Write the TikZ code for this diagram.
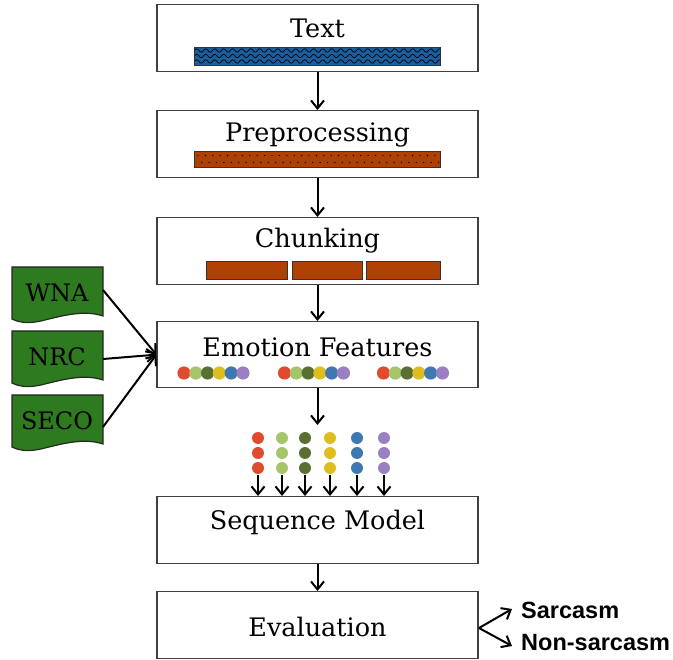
\documentclass[tikz,border=0pt]{standalone}
\usepackage{fontspec}
\setmainfont{DejaVu Serif}
\newfontfamily\labelsans{Liberation Sans}
\usetikzlibrary{arrows.meta}
\definecolor{barblue}{HTML}{1B5E9E}
\definecolor{barorange}{HTML}{AF4004}
\definecolor{docgreen}{HTML}{2E7A1E}
\definecolor{dred}{HTML}{E04A2F}
\definecolor{dlgreen}{HTML}{A6C46A}
\definecolor{ddgreen}{HTML}{5A7033}
\definecolor{dyellow}{HTML}{DDBE1E}
\definecolor{dblue}{HTML}{3F78B0}
\definecolor{dpurple}{HTML}{9A80C0}
\tikzset{
  stagebox/.style={draw=black!75, line width=1.3pt, fill=white, minimum width=321pt, minimum height=67pt, inner sep=0pt, anchor=north},
  stagelabel/.style={font=\fontsize{25.5}{28}\selectfont, inner sep=0pt},
  barbox/.style={draw=black!80, line width=0.9pt},
  flow/.style={line width=2pt, -{Straight Barb[length=8pt,width=13pt,line width=2pt]}},
  docbox/.style={draw=black!85, line width=1.2pt, fill=docgreen},
  doclabel/.style={font=\fontsize{24}{26}\selectfont, inner sep=0pt},
  outlabel/.style={font=\labelsans\bfseries\fontsize{23.5}{26}\selectfont, anchor=west, inner sep=0pt},
}
\begin{document}
\begin{tikzpicture}[x=1pt, y=-1pt]
\useasboundingbox (0,0) rectangle (673,660);

% ---- pipeline stages
\node[stagebox] (text) at (317.5,4) {};
\node[stagebox] (prep) at (317.5,110) {};
\node[stagebox] (chunk) at (317.5,217) {};
\node[stagebox, minimum height=66pt] (emo) at (317.5,321) {};
\node[stagebox] (seq) at (317.5,496) {};
\node[stagebox] (eval) at (317.5,591) {};

\node[stagelabel] (textlbl) at (317.5,28) {Text};
\node[stagelabel] (preplbl) at (317.5,135) {Preprocessing};
\node[stagelabel] (chunklbl) at (317.5,241) {Chunking};
\node[stagelabel] (emolbl) at (317.5,347) {Emotion Features};
\node[stagelabel] (seqlbl) at (317.5,522) {Sequence Model};
\node[stagelabel] (evallbl) at (317.5,627) {Evaluation};

% ---- wavy blue bar
\fill[barblue] (194,47) rectangle (440,65);
\begin{scope}
  \clip (194,47) rectangle (440,65);
  \foreach \r in {50.5,56,61.5}
    \draw[black, line width=0.7pt] plot[domain=0:250, samples=260, smooth] ({190+\x}, {\r+1.7*sin(\x*40)});
\end{scope}
\draw[barbox] (194,47) rectangle (440,65);

% ---- dotted orange bar
\fill[barorange] (194,151) rectangle (440,167);
\foreach \i in {0,...,32} {
  \fill[black] ({198+7.4*\i},155.5) circle (0.7);
  \fill[black] ({201.7+7.4*\i},162.5) circle (0.7);
}
\draw[barbox] (194,151) rectangle (440,167);

% ---- three chunks
\draw[barbox, fill=barorange] (206,261) rectangle (287,279);
\draw[barbox, fill=barorange] (292,261) rectangle (362,279);
\draw[barbox, fill=barorange] (366,261) rectangle (440,279);

% ---- emotion feature vectors per chunk
\foreach \gx in {184,284.5,383.5} {
  \foreach \c [count=\k from 0] in {dred,dlgreen,ddgreen,dyellow,dblue,dpurple}
    \fill[\c] ({\gx+11.8*\k},373) circle (6.6);
}

% ---- feature columns entering the sequence model
\foreach \cx/\c [count=\k] in {258/dred,282/dlgreen,305/ddgreen,330/dyellow,357/dblue,384/dpurple} {
  \foreach \ry in {438,453,468}
    \fill[\c] (\cx,\ry) circle (6);
  \coordinate (col\k) at (\cx,475);
  \draw[flow] (col\k) -- (col\k |- seq.north);
}
\coordinate (vecs) at (317.5,425);

% ---- lexicon documents
\foreach \nm/\ty/\lbl in {wna/267/WNA, nrc/331/NRC, seco/395/SECO} {
  \draw[docbox] (12,\ty) -- (103,\ty) -- (103,\ty+49)
     .. controls (85,\ty+43) and (65,\ty+48) .. (45,\ty+53)
     .. controls (30,\ty+57) and (20,\ty+56) .. (12,\ty+52) -- cycle;
  \node[doclabel] (\nm) at (57,\ty+26) {\lbl};
}
\coordinate (wnaout) at (103,290);
\coordinate (nrcout) at (103,359);
\coordinate (secoout) at (103,427);

% ---- connectors
\draw[flow] (text.south) -- (prep.north);
\draw[flow] (prep.south) -- (chunk.north);
\draw[flow] (chunk.south) -- (emo.north);
\draw[flow] (emo.south) -- (vecs);
\draw[flow] (seq.south) -- (eval.north);
\draw[flow] (wnaout) -- (emo.west);
\draw[flow] (nrcout) -- (emo.west);
\draw[flow] (secoout) -- (emo.west);

% ---- outcomes
\node[outlabel] (sarc) at (521,610) {Sarcasm};
\node[outlabel] (nonsarc) at (521,643) {Non-sarcasm};
\coordinate (evalout) at (479,628);
\draw[flow] (evalout) -- (512,609);
\draw[flow] (evalout) -- (512,646);
\end{tikzpicture}
\end{document}
